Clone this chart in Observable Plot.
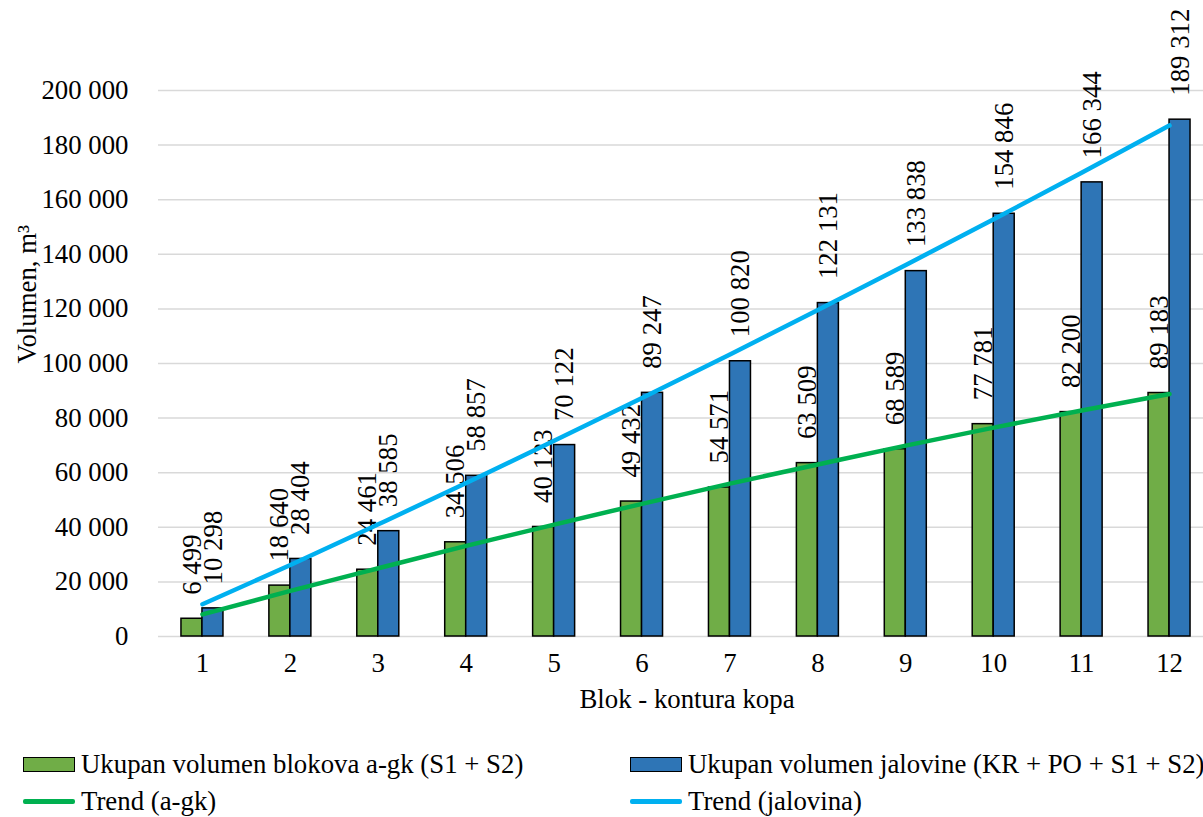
<!DOCTYPE html>
<html>
<head>
<meta charset="utf-8">
<script src="https://cdn.jsdelivr.net/npm/d3@7"></script>
<script src="https://cdn.jsdelivr.net/npm/@observablehq/plot@0.6"></script>
<style>
  html, body { margin: 0; padding: 0; background: #fff; }
  #wrap { position: relative; width: 1203px; height: 817px; font-family: "Liberation Serif", "Times New Roman", serif; font-size: 26.8px; color: #000; }
  .lg { position: absolute; display: flex; align-items: center; white-space: nowrap; line-height: 1; }
  .sw { width: 50px; height: 13px; border: 1.5px solid #000; margin-right: 6px; box-sizing: content-box; }
  .ln { width: 52px; height: 4.5px; border-radius: 2px; margin-right: 6px; }
  svg text { font-family: "Liberation Serif", "Times New Roman", serif; }
</style>
</head>
<body>
<div id="wrap">
  <div id="chart"></div>
  <div class="lg" style="left:23px; top:751px;"><div class="sw" style="background:#70AD47"></div><span id="l1"></span></div>
  <div class="lg" style="left:630px; top:751px;"><div class="sw" style="background:#2E75B6"></div><span id="l2"></span></div>
  <div class="lg" style="left:23px; top:788px;"><div class="ln" style="background:#00B050"></div><span id="l3"></span></div>
  <div class="lg" style="left:630px; top:788px;"><div class="ln" style="background:#00B0F0"></div><span id="l4"></span></div>
</div>
<script>
const categories = ["1","2","3","4","5","6","7","8","9","10","11","12"];
const blokovaAgk = [6499, 18640, 24461, 34506, 40123, 49432, 54571, 63509, 68589, 77781, 82200, 89183];
const jalovina = [10298, 28404, 38585, 58857, 70122, 89247, 100820, 122131, 133838, 154846, 166344, 189312];
// trend curves, estimated at each category from the picture
const trendAgk = [8100, 16700, 25000, 33200, 41000, 48600, 56000, 63000, 69900, 76500, 82800, 88800];
const trendJalovina = [11800, 26200, 41100, 56200, 71700, 87400, 103300, 119600, 136100, 152800, 169900, 187200];
const yTicks = [0, 20000, 40000, 60000, 80000, 100000, 120000, 140000, 160000, 180000, 200000];
const seriesNames = ["Ukupan volumen blokova a-gk (S1 + S2)", "Ukupan volumen jalovine (KR + PO + S1 + S2)", "Trend (a-gk)", "Trend (jalovina)"];
const xTitle = "Blok - kontura kopa";
const yTitle = "Volumen, m³";

document.getElementById("l1").textContent = seriesNames[0];
document.getElementById("l2").textContent = seriesNames[1];
document.getElementById("l3").textContent = seriesNames[2];
document.getElementById("l4").textContent = seriesNames[3];

const fmt = v => d3.format(",")(v).replace(/,/g, " ");

const green = categories.map((c, i) => ({cat: c, v: blokovaAgk[i]}));
const blue = categories.map((c, i) => ({cat: c, v: jalovina[i]}));
const tG = categories.map((c, i) => ({cat: c, v: trendAgk[i]}));
const tB = categories.map((c, i) => ({cat: c, v: trendJalovina[i]}));

const x0 = 158, x1 = 1213;
const bw = (x1 - x0) / categories.length;
const barW = 21;
const half = bw / 2;
const ff = "Liberation Serif";

const chart = Plot.plot({
  width: 1203,
  height: 730,
  marginLeft: 158,
  marginRight: 0,
  marginTop: 90,
  marginBottom: 94,
  style: {fontFamily: "'Liberation Serif', 'Times New Roman', serif", fontSize: "26.8px", background: "white", color: "#000", overflow: "visible"},
  x: {type: "band", domain: categories, range: [x0, x1], padding: 0, round: false, label: null},
  y: {domain: [0, 200000], label: null},
  marks: [
    Plot.gridY(yTicks, {stroke: "#D9D9D9", strokeOpacity: 1, strokeWidth: 1.5}),
    Plot.axisY(yTicks, {tickSize: 0, tickPadding: 30, tickFormat: fmt, label: null, fontFamily: ff}),
    Plot.axisX({tickSize: 0, tickPadding: 16, label: null, fontFamily: ff}),
    Plot.barY(green, {x: "cat", y: "v", fill: "#70AD47", stroke: "#000", strokeWidth: 1.5, insetLeft: half - barW, insetRight: half}),
    Plot.barY(blue, {x: "cat", y: "v", fill: "#2E75B6", stroke: "#000", strokeWidth: 1.5, insetLeft: half, insetRight: half - barW}),
    Plot.text(green, {x: "cat", y: "v", text: d => fmt(d.v), rotate: -90, textAnchor: "start", dx: -barW / 2, dy: -24, fill: "#000", fontFamily: ff, fontSize: 26.8}),
    Plot.text(blue, {x: "cat", y: "v", text: d => fmt(d.v), rotate: -90, textAnchor: "start", dx: barW / 2, dy: -24, fill: "#000", fontFamily: ff, fontSize: 26.8}),
    Plot.line(tG, {x: "cat", y: "v", stroke: "#00B050", strokeWidth: 4.5, curve: "natural"}),
    Plot.line(tB, {x: "cat", y: "v", stroke: "#00B0F0", strokeWidth: 4.5, curve: "natural"}),
    Plot.text([xTitle], {frameAnchor: "bottom", dx: 6, dy: 71, fill: "#000", fontFamily: ff}),
    Plot.text([yTitle], {frameAnchor: "left", dx: -131, rotate: -90, fill: "#000", fontFamily: ff})
  ]
});
document.getElementById("chart").appendChild(chart);
</script>
</body>
</html>
